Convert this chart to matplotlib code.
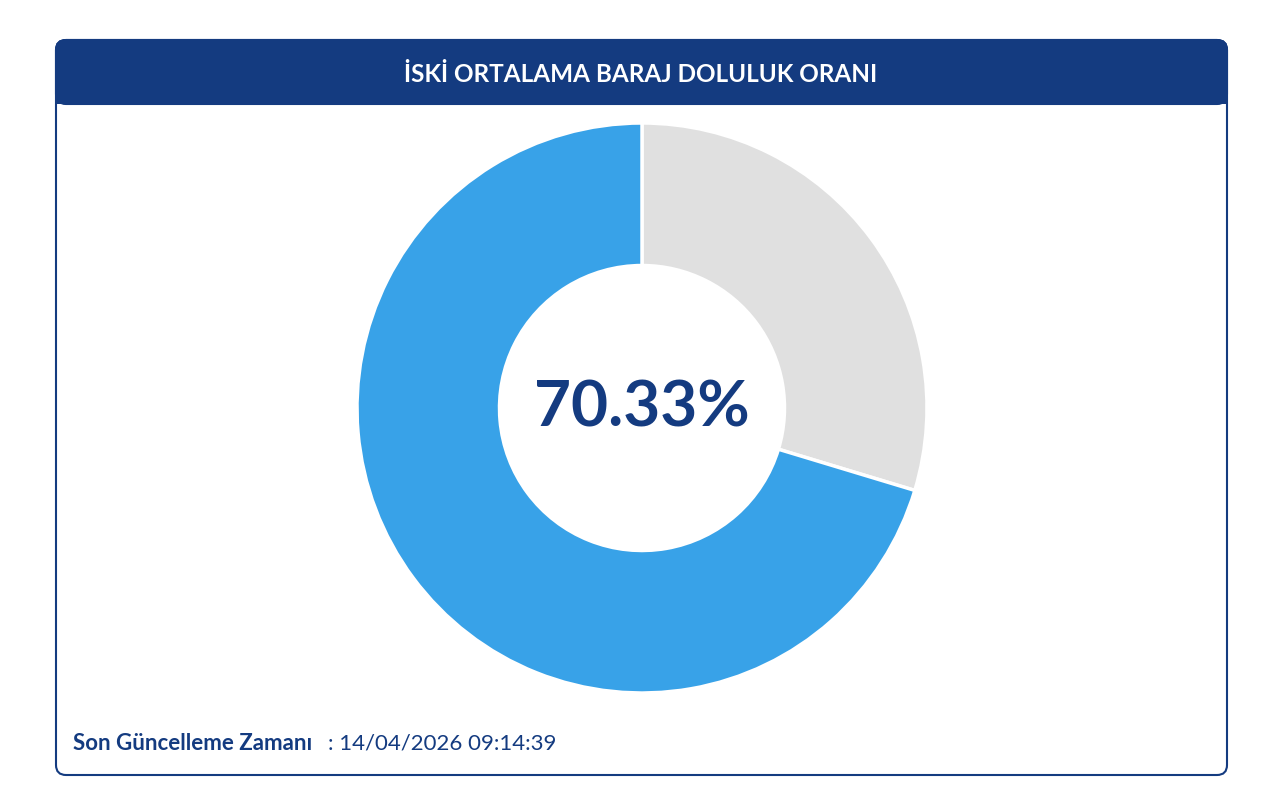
import matplotlib.pyplot as plt
from matplotlib.patches import FancyBboxPatch, Rectangle

title = "İSKİ ORTALAMA BARAJ DOLULUK ORANI"
fill_pct = 70.33
values = [100 - fill_pct, fill_pct]  # empty part first, clockwise from top
colors = ["#e0e0e0", "#38a2e8"]
update_label = "Son Güncelleme Zamanı"
update_time = "14/04/2026 09:14:39"

navy = "#143b80"
W, H = 1280, 800

fig = plt.figure(figsize=(12.8, 8), dpi=100)
bg = fig.add_axes([0, 0, 1, 1])
bg.set_xlim(0, W)
bg.set_ylim(H, 0)
bg.axis("off")

# card outline and header
bg.add_patch(FancyBboxPatch((56, 40), 1171, 735, boxstyle="round,pad=0,rounding_size=10",
                            fc="white", ec=navy, lw=1.5))
bg.add_patch(FancyBboxPatch((56, 40), 1171, 64, boxstyle="round,pad=0,rounding_size=10",
                            fc=navy, ec=navy, lw=1.5))
bg.add_patch(Rectangle((56, 80), 1171, 24, fc=navy, ec="none"))
bg.text(641, 74, title, color="white", fontsize=17.5, fontweight="bold",
        ha="center", va="center", family="Lato")

bg.text(73, 744, update_label, color=navy, fontsize=16, fontweight="bold",
        va="center", family="Lato")
bg.text(328, 744, ": " + update_time, color=navy, fontsize=16,
        va="center", family="Lato")

# donut
cx, cy, r = 642, 408, 285
ax = fig.add_axes([(cx - r) / W, 1 - (cy + r) / H, 2 * r / W, 2 * r / H])
ax.pie(values, colors=colors, startangle=90, counterclock=False,
       wedgeprops=dict(width=0.5, edgecolor="white", linewidth=2.5))
ax.set_xlim(-1, 1)
ax.set_ylim(-1, 1)
ax.set_aspect("equal")
ax.text(0, 0, f"{fill_pct:.2f}%", color=navy, fontsize=46, fontweight="bold",
        ha="center", va="center", family="Lato")

fig.savefig("out.png", dpi=100)
